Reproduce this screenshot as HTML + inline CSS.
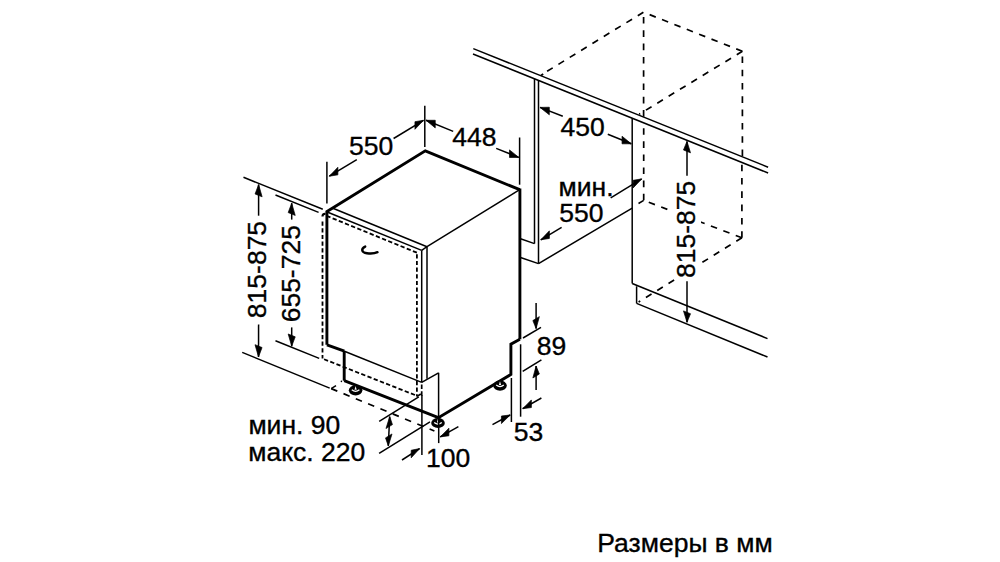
<!DOCTYPE html>
<html><head><meta charset="utf-8"><style>
html,body{margin:0;padding:0;background:#fff;width:1000px;height:562px;overflow:hidden}
svg{position:absolute;left:0;top:0}
.t{position:absolute;font-family:"Liberation Sans",sans-serif;font-size:26.5px;line-height:1;color:#000;white-space:nowrap}
</style></head><body>
<svg width="1000" height="562" viewBox="0 0 1000 562">
<g stroke="#000" fill="none" stroke-linecap="butt">
<line x1="473.30" y1="48.60" x2="768.10" y2="167.20" stroke-width="1.5" />
<line x1="473.00" y1="54.00" x2="768.10" y2="173.00" stroke-width="1.5" />
<line x1="643.40" y1="12.20" x2="541.40" y2="74.80" stroke-width="1.7" stroke-dasharray="6.6 6.7" stroke-dashoffset="0"/>
<line x1="541.00" y1="75.40" x2="543.20" y2="73.90" stroke-width="1.8" />
<line x1="643.40" y1="12.20" x2="742.40" y2="51.30" stroke-width="1.7" stroke-dasharray="6.6 6.7" stroke-dashoffset="6.6"/>
<line x1="742.40" y1="51.30" x2="639.20" y2="114.20" stroke-width="1.7" stroke-dasharray="6.6 6.7" stroke-dashoffset="0"/>
<line x1="643.60" y1="12.20" x2="643.60" y2="117.00" stroke-width="1.7" stroke-dasharray="6.6 6.7" stroke-dashoffset="8.5"/>
<line x1="643.70" y1="200.30" x2="643.70" y2="123.50" stroke-width="1.7" stroke-dasharray="6.6 6.5" stroke-dashoffset="0"/>
<line x1="742.40" y1="51.30" x2="742.40" y2="156.50" stroke-width="1.7" stroke-dasharray="6.6 6.7" stroke-dashoffset="8.2"/>
<line x1="741.90" y1="237.80" x2="741.90" y2="162.00" stroke-width="1.7" stroke-dasharray="6.6 6.7" stroke-dashoffset="0"/>
<line x1="741.90" y1="237.80" x2="643.70" y2="200.30" stroke-width="1.7" stroke-dasharray="6.6 6.7" stroke-dashoffset="0"/>
<line x1="741.90" y1="237.80" x2="638.60" y2="302.00" stroke-width="1.7" stroke-dasharray="6.6 6.7" stroke-dashoffset="0"/>
<line x1="643.70" y1="200.30" x2="638.50" y2="203.50" stroke-width="1.5" />
<line x1="534.50" y1="78.78" x2="534.50" y2="243.60" stroke-width="1.5" />
<line x1="538.50" y1="80.40" x2="538.50" y2="263.60" stroke-width="1.5" />
<line x1="520.50" y1="238.70" x2="534.50" y2="243.60" stroke-width="1.5" />
<line x1="520.50" y1="257.50" x2="538.50" y2="263.60" stroke-width="1.5" />
<line x1="538.50" y1="263.60" x2="632.20" y2="208.10" stroke-width="1.5" />
<line x1="632.20" y1="118.16" x2="632.20" y2="283.50" stroke-width="1.5" />
<line x1="632.20" y1="283.50" x2="767.50" y2="338.60" stroke-width="1.5" />
<line x1="636.60" y1="286.30" x2="636.60" y2="303.40" stroke-width="1.5" />
<line x1="636.60" y1="303.40" x2="767.50" y2="357.00" stroke-width="1.5" />
<polyline points="326.20,212.00 425.30,150.80 519.70,189.70" stroke-width="2.9" stroke-linejoin="miter"/>
<line x1="326.90" y1="211.00" x2="326.90" y2="344.80" stroke-width="2.9" />
<line x1="519.90" y1="188.50" x2="519.90" y2="339.30" stroke-width="2.9" />
<line x1="519.70" y1="189.70" x2="427.00" y2="246.70" stroke-width="1.5" />
<line x1="332.90" y1="208.20" x2="427.00" y2="246.70" stroke-width="1.5" />
<line x1="327.80" y1="212.20" x2="421.70" y2="250.40" stroke-width="1.5" />
<line x1="421.70" y1="250.40" x2="427.00" y2="246.70" stroke-width="1.5" />
<line x1="427.00" y1="246.70" x2="427.00" y2="378.70" stroke-width="1.5" />
<line x1="421.70" y1="250.40" x2="421.70" y2="382.40" stroke-width="1.5" />
<line x1="322.50" y1="219.50" x2="322.50" y2="358.60" stroke-width="1.8" stroke-dasharray="4.2 2.47" stroke-dashoffset="4.63"/>
<line x1="325.50" y1="215.40" x2="416.90" y2="252.70" stroke-width="1.8" stroke-dasharray="4.3 2.37" stroke-dashoffset="5.65"/>
<path d="M322.5,216.5 Q322.5,213.5 325.5,213.9" stroke-width="2.2"/>
<line x1="416.90" y1="252.70" x2="416.90" y2="396.50" stroke-width="1.8" stroke-dasharray="4.2 2.47" stroke-dashoffset="5.16"/>
<line x1="322.40" y1="358.60" x2="416.40" y2="395.60" stroke-width="1.8" stroke-dasharray="4.3 2.37" stroke-dashoffset="4.9"/>
<line x1="326.90" y1="344.80" x2="344.40" y2="351.20" stroke-width="2.9" />
<line x1="344.40" y1="351.20" x2="421.70" y2="382.40" stroke-width="1.5" />
<line x1="421.70" y1="382.40" x2="438.60" y2="372.80" stroke-width="1.5" />
<line x1="438.60" y1="372.80" x2="438.60" y2="417.70" stroke-width="1.5" />
<line x1="344.20" y1="351.00" x2="344.20" y2="380.70" stroke-width="2.9" />
<polyline points="344.20,380.70 438.40,417.70 510.90,374.50 510.90,344.20 519.90,339.30" stroke-width="2.9" />
<path d="M365.2,246.6 C361,248.5 361,252.5 367,253.3 C371,253.8 375,253.4 377.5,252.2" stroke-width="2.4" stroke-linecap="round"/>
<ellipse cx="355.6" cy="390.3" rx="6.8" ry="5.1" fill="#000" stroke="none"/>
<path d="M351.80,389.80 Q355.60,392.90 359.40,389.80" stroke="#fff" stroke-width="1.3"/>
<polygon points="354.50,389.70 356.70,389.70 355.60,385.90" fill="#fff" stroke="none"/>
<ellipse cx="438.0" cy="423.0" rx="6.8" ry="5.1" fill="#000" stroke="none"/>
<path d="M434.20,422.50 Q438.00,425.60 441.80,422.50" stroke="#fff" stroke-width="1.3"/>
<polygon points="436.90,422.40 439.10,422.40 438.00,418.60" fill="#fff" stroke="none"/>
<ellipse cx="500.0" cy="385.6" rx="6.8" ry="5.1" fill="#000" stroke="none"/>
<path d="M496.20,385.10 Q500.00,388.20 503.80,385.10" stroke="#fff" stroke-width="1.3"/>
<polygon points="498.90,385.00 501.10,385.00 500.00,381.20" fill="#fff" stroke="none"/>
<line x1="421.70" y1="382.40" x2="421.70" y2="396.20" stroke-width="1.7" stroke-dasharray="4.5 2.3" stroke-dashoffset="4.8"/>
<line x1="417.00" y1="396.40" x2="420.80" y2="394.00" stroke-width="1.7" />
<line x1="243.50" y1="177.30" x2="322.80" y2="209.30" stroke-width="1.5" />
<line x1="275.50" y1="195.00" x2="318.60" y2="212.40" stroke-width="1.5" />
<line x1="242.20" y1="352.40" x2="329.70" y2="388.10" stroke-width="1.5" />
<line x1="275.50" y1="340.80" x2="319.20" y2="358.40" stroke-width="1.5" />
<line x1="258.60" y1="215.70" x2="258.60" y2="184.60" stroke-width="1.5" />
<polygon points="258.60,184.60 262.12,196.82 255.08,193.98" fill="#000" stroke="#000" stroke-width="0.7" stroke-linejoin="round"/>
<line x1="258.60" y1="324.50" x2="258.50" y2="356.90" stroke-width="1.5" />
<polygon points="258.50,356.90 262.06,347.52 255.01,344.68" fill="#000" stroke="#000" stroke-width="0.7" stroke-linejoin="round"/>
<line x1="291.70" y1="219.60" x2="291.70" y2="203.20" stroke-width="1.5" />
<polygon points="291.70,203.20 295.22,215.42 288.18,212.58" fill="#000" stroke="#000" stroke-width="0.7" stroke-linejoin="round"/>
<line x1="291.70" y1="327.40" x2="291.70" y2="346.20" stroke-width="1.5" />
<polygon points="291.70,346.20 295.22,336.82 288.18,333.98" fill="#000" stroke="#000" stroke-width="0.7" stroke-linejoin="round"/>
<line x1="331.20" y1="388.60" x2="434.40" y2="431.00" stroke-width="1.7" stroke-dasharray="6.6 6.7" stroke-dashoffset="0"/>
<line x1="331.20" y1="388.60" x2="336.00" y2="385.70" stroke-width="1.5" />
<circle cx="341.4" cy="381.4" r="0.8" fill="#000" stroke="none"/>
<line x1="326.90" y1="161.80" x2="326.90" y2="203.60" stroke-width="1.5" />
<line x1="424.80" y1="105.70" x2="424.80" y2="147.00" stroke-width="1.5" />
<line x1="519.60" y1="137.50" x2="519.60" y2="184.70" stroke-width="1.5" />
<line x1="356.80" y1="159.70" x2="329.30" y2="176.20" stroke-width="1.5" />
<polygon points="329.30,176.20 337.87,174.86 337.87,167.26" fill="#000" stroke="#000" stroke-width="0.7" stroke-linejoin="round"/>
<line x1="393.60" y1="138.50" x2="423.50" y2="120.30" stroke-width="1.5" />
<polygon points="423.50,120.30 414.96,129.30 414.96,121.70" fill="#000" stroke="#000" stroke-width="0.7" stroke-linejoin="round"/>
<line x1="453.20" y1="131.40" x2="426.00" y2="120.30" stroke-width="1.5" />
<polygon points="426.00,120.30 435.26,127.88 435.26,120.28" fill="#000" stroke="#000" stroke-width="0.7" stroke-linejoin="round"/>
<line x1="496.20" y1="148.40" x2="518.80" y2="157.40" stroke-width="1.5" />
<polygon points="518.80,157.40 509.51,157.50 509.51,149.90" fill="#000" stroke="#000" stroke-width="0.7" stroke-linejoin="round"/>
<line x1="562.80" y1="116.30" x2="540.00" y2="107.40" stroke-width="1.5" />
<polygon points="540.00,107.40 549.32,114.84 549.32,107.24" fill="#000" stroke="#000" stroke-width="0.7" stroke-linejoin="round"/>
<line x1="607.80" y1="134.20" x2="631.30" y2="143.80" stroke-width="1.5" />
<polygon points="631.30,143.80 622.04,143.82 622.04,136.22" fill="#000" stroke="#000" stroke-width="0.7" stroke-linejoin="round"/>
<line x1="610.70" y1="197.80" x2="641.70" y2="178.90" stroke-width="1.5" />
<polygon points="641.70,178.90 633.16,187.91 633.16,180.31" fill="#000" stroke="#000" stroke-width="0.7" stroke-linejoin="round"/>
<line x1="561.60" y1="227.30" x2="540.80" y2="239.80" stroke-width="1.5" />
<polygon points="540.80,239.80 549.37,238.45 549.37,230.85" fill="#000" stroke="#000" stroke-width="0.7" stroke-linejoin="round"/>
<rect x="672.8" y="178" width="28.2" height="101" fill="#fff" stroke="none"/>
<line x1="687.00" y1="175.70" x2="687.00" y2="141.40" stroke-width="1.5" />
<polygon points="687.00,141.40 690.52,152.82 683.48,149.98" fill="#000" stroke="#000" stroke-width="0.7" stroke-linejoin="round"/>
<line x1="687.00" y1="281.30" x2="687.00" y2="322.30" stroke-width="1.5" />
<polygon points="687.00,322.30 690.52,313.72 683.48,310.88" fill="#000" stroke="#000" stroke-width="0.7" stroke-linejoin="round"/>
<line x1="379.20" y1="421.40" x2="418.80" y2="396.80" stroke-width="1.5" />
<line x1="379.10" y1="453.40" x2="430.00" y2="421.90" stroke-width="1.5" />
<line x1="389.00" y1="431.00" x2="389.70" y2="416.60" stroke-width="1.5" />
<polygon points="389.70,416.60 392.46,424.62 385.97,428.56" fill="#000" stroke="#000" stroke-width="0.7" stroke-linejoin="round"/>
<line x1="389.00" y1="431.00" x2="388.30" y2="445.90" stroke-width="1.5" />
<polygon points="388.30,445.90 392.02,433.94 385.52,437.88" fill="#000" stroke="#000" stroke-width="0.7" stroke-linejoin="round"/>
<line x1="421.90" y1="395.00" x2="421.90" y2="455.00" stroke-width="1.5" />
<line x1="438.70" y1="417.70" x2="438.70" y2="443.10" stroke-width="1.5" />
<line x1="402.00" y1="460.00" x2="419.60" y2="448.60" stroke-width="1.5" />
<polygon points="419.60,448.60 411.21,457.84 411.21,450.24" fill="#000" stroke="#000" stroke-width="0.7" stroke-linejoin="round"/>
<line x1="458.40" y1="426.60" x2="440.20" y2="436.90" stroke-width="1.5" />
<polygon points="440.20,436.90 448.90,435.77 448.90,428.17" fill="#000" stroke="#000" stroke-width="0.7" stroke-linejoin="round"/>
<line x1="520.60" y1="344.30" x2="520.60" y2="416.70" stroke-width="1.5" />
<line x1="511.40" y1="378.00" x2="511.40" y2="422.00" stroke-width="1.5" />
<line x1="523.00" y1="338.00" x2="541.00" y2="327.40" stroke-width="1.5" />
<line x1="522.70" y1="371.40" x2="541.40" y2="359.80" stroke-width="1.5" />
<line x1="536.10" y1="303.00" x2="536.10" y2="328.60" stroke-width="1.5" />
<polygon points="536.10,328.60 539.35,316.63 532.85,320.57" fill="#000" stroke="#000" stroke-width="0.7" stroke-linejoin="round"/>
<line x1="536.10" y1="390.00" x2="536.10" y2="366.00" stroke-width="1.5" />
<polygon points="536.10,366.00 539.35,374.03 532.85,377.97" fill="#000" stroke="#000" stroke-width="0.7" stroke-linejoin="round"/>
<line x1="541.40" y1="398.00" x2="522.70" y2="408.70" stroke-width="1.5" />
<polygon points="522.70,408.70 531.38,407.53 531.38,399.93" fill="#000" stroke="#000" stroke-width="0.7" stroke-linejoin="round"/>
<line x1="492.50" y1="424.70" x2="510.20" y2="415.00" stroke-width="1.5" />
<polygon points="510.20,415.00 501.43,423.61 501.43,416.01" fill="#000" stroke="#000" stroke-width="0.7" stroke-linejoin="round"/>
</g>
<g font-family="Liberation Sans" font-size="26.5" fill="#000" stroke="#000" stroke-width="0.35">
<text x="349" y="155.05">550</text>
<text x="452.3" y="146.2">448</text>
<text x="560.55" y="136.45">450</text>
<text x="558.55" y="195.55">мин.</text>
<text x="559.2" y="221.5">550</text>
<text x="536.7" y="354.55">89</text>
<text x="513.75" y="440.7">53</text>
<text x="248.4" y="433.9">мин. 90</text>
<text x="248.25" y="460.7">макс. 220</text>
<text x="426.0" y="467.3">100</text>
<text x="597.3" y="552.2">Размеры в мм</text>
<text transform="translate(266.35,318.15) rotate(-90)">815-875</text>
<text transform="translate(300.35,322.35) rotate(-90)">655-725</text>
<text transform="translate(695.15,277.95) rotate(-90)">815-875</text>
</g>
</svg>
</body></html>
